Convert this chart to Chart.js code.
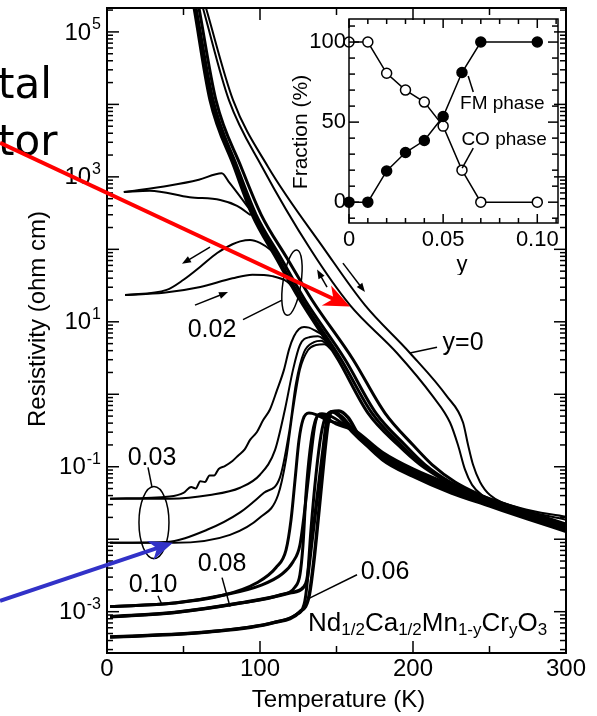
<!DOCTYPE html>
<html>
<head>
<meta charset="utf-8">
<script src="https://cdn.jsdelivr.net/npm/chart.js@4.4.0/dist/chart.umd.min.js"></script>
<style>
  body { margin: 0; background: #fff; }
  #wrap { position: relative; width: 597px; height: 716px; }
  #main { position: absolute; left: 0; top: 0; }
  #inset { position: absolute; left: 290px; top: 10px; }
</style>
</head>
<body>
<div id="wrap">
  <canvas id="main" width="597" height="716"></canvas>
  <canvas id="inset" width="276" height="265"></canvas>
</div>
<script>
// ---- main panel: temperature (K) and log10 of resistivity (ohm cm) ----
// y = 0 (warming / cooling)
const y0WarmT = [64.7, 82.4, 105.2, 142.5, 168.6, 198, 222.2, 232.7, 236, 239.2, 243.8, 250.3, 270, 300];
const y0WarmLogR = [5.33, 4.06, 3.14, 1.99, 1.23, 0.57, -0.03, -0.39, -0.70, -0.97, -1.21, -1.39, -1.57, -1.69];
const y0CoolT = [62.7, 79.7, 101.3, 133.3, 158.8, 189.5, 213, 224.2, 229.4, 234, 238.6, 245.1, 270, 300];
const y0CoolLogR = [5.33, 4.06, 3.14, 1.99, 1.23, 0.57, -0.03, -0.39, -0.70, -1.04, -1.25, -1.39, -1.59, -1.73];

// high temperature bundle of the doped samples
const bundleLogR = [5.33, 4.06, 3.14, 2.48, 1.88, 1.30, 0.48, -0.26, -0.70, -0.97, -1.21];
const bundle1T = [56.9, 67.3, 83, 94.8, 110.5, 126.1, 151, 170.6, 190.2, 204.6, 222.2, 242.5, 270, 300];
const bundle1LogR = bundleLogR.concat([-1.44, -1.67, -1.86]);
const bundle2T = [57.5, 68, 83.7, 96.1, 111.8, 127.5, 153, 173.2, 192.2, 206, 223.5, 243.1, 270, 300];
const bundle2LogR = bundleLogR.concat([-1.42, -1.66, -1.84]);
const bundle3T = [58.2, 69.3, 85, 97.4, 113.7, 129.4, 155.6, 175.8, 194.8, 207.8, 224.2, 243.8, 270, 300];
const bundle3LogR = bundleLogR.concat([-1.41, -1.65, -1.83]);
const bundle4T = [60.1, 71.2, 87.6, 100.7, 117.6, 134, 160.8, 181.7, 200, 212.4, 227.5, 245.1, 270, 300];
const bundle4LogR = bundleLogR.concat([-1.40, -1.63, -1.80]);

// y = 0.02
const c1T = [11, 41, 60, 75, 80, 88, 95];
const c1LogR = [2.79, 2.88, 2.96, 3.05, 2.92, 2.70, 2.50];
const c2T = [11, 28, 54, 74, 85, 94];
const c2LogR = [2.79, 2.81, 2.72, 2.68, 2.60, 2.47];
const d1T = [11.8, 39, 50, 61, 72, 82, 87, 93.5, 100, 107, 113];
const d1LogR = [1.37, 1.44, 1.58, 1.76, 1.95, 2.07, 2.11, 2.13, 2.09, 1.99, 1.86];
const d2T = [11.8, 37, 61, 82, 95, 108, 118, 122];
const d2LogR = [1.37, 1.40, 1.48, 1.60, 1.65, 1.63, 1.55, 1.46];

// y = 0.03
const e1T = [2, 41, 50, 55, 58, 61, 64, 67, 70, 73, 77, 82, 86, 90, 93.5, 98, 102, 106.5, 111, 115.7, 119, 122.2, 125.5, 128.8, 132, 136, 140];
const e1LogR = [-1.44, -1.41, -1.36, -1.28, -1.30, -1.20, -1.21, -1.12, -1.12, -1.03, -0.99, -0.92, -0.84, -0.76, -0.63, -0.52, -0.36, -0.21, 0.05, 0.34, 0.62, 0.80, 0.90, 0.93, 0.92, 0.88, 0.83];
const e2T = [2, 41, 67.3, 87, 100, 109.8, 116.3, 121.6, 126.1, 132.7, 137.9, 143];
const e2LogR = [-1.44, -1.44, -1.39, -1.29, -1.11, -0.77, -0.21, 0.34, 0.68, 0.79, 0.80, 0.74];
const e3T = [2, 38, 65.4, 87, 102.6, 113, 119, 123.5, 128.8, 135.3, 140, 145];
const e3LogR = [-2.05, -2.04, -1.87, -1.63, -1.36, -1.15, -0.53, 0.15, 0.58, 0.72, 0.74, 0.67];
const e4T = [2, 44, 80.4, 100, 111.8, 117, 121.6, 126.1, 131.4, 136.6, 142, 147];
const e4LogR = [-2.05, -2.05, -1.94, -1.70, -1.39, -0.90, -0.21, 0.34, 0.61, 0.68, 0.69, 0.61];

// y = 0.10, 0.08, 0.06 (cooling / warming)
const g10cT = [2, 44, 76.5, 98, 110.5, 117, 120.3, 122.9, 125.5, 128.1, 132, 136.6, 143.1, 160, 180, 200, 225, 250, 275, 300];
const g10cLogR = [-2.93, -2.88, -2.77, -2.60, -2.39, -2.15, -1.73, -1.18, -0.63, -0.35, -0.26, -0.28, -0.35, -0.47, -0.80, -1.03, -1.25, -1.44, -1.62, -1.79];
const g10wT = [2, 44, 76.5, 100, 114.4, 121.6, 126.1, 130, 133.3, 135.9, 138.6, 143.1, 149.7, 160, 180, 200, 225, 250, 275, 300];
const g10wLogR = [-2.93, -2.88, -2.77, -2.64, -2.48, -2.31, -2.08, -1.46, -0.84, -0.42, -0.28, -0.32, -0.41, -0.49, -0.83, -1.06, -1.28, -1.47, -1.65, -1.82];
const g08cT = [2, 44, 87, 113, 122.9, 126.1, 128.1, 130, 132.7, 135.9, 140.5, 147, 160, 180, 200, 225, 250, 275, 300];
const g08cLogR = [-3.07, -3.01, -2.88, -2.77, -2.66, -2.49, -2.08, -1.39, -0.77, -0.38, -0.27, -0.31, -0.50, -0.85, -1.08, -1.30, -1.48, -1.66, -1.83];
const g08wT = [2, 44, 87, 119.6, 128.1, 130.7, 134, 138, 141.2, 143.8, 147, 152.3, 160, 180, 200, 225, 250, 275, 300];
const g08wLogR = [-3.07, -3.01, -2.88, -2.74, -2.67, -2.56, -2.01, -1.32, -0.77, -0.35, -0.24, -0.31, -0.51, -0.87, -1.10, -1.32, -1.50, -1.68, -1.85];
const g06cT = [2, 65.4, 109, 123.5, 128.8, 130.7, 133.3, 136.6, 139.9, 143.1, 147.7, 153.6, 165, 180, 200, 225, 250, 275, 300];
const g06cLogR = [-3.35, -3.28, -3.15, -3.04, -2.90, -2.63, -1.87, -1.11, -0.56, -0.30, -0.24, -0.31, -0.60, -0.88, -1.12, -1.34, -1.52, -1.70, -1.87];
const g06wT = [2, 65.4, 109, 126.1, 132, 135.3, 138.6, 141.8, 144.4, 147, 151.6, 157.5, 165, 180, 200, 225, 250, 275, 300];
const g06wLogR = [-3.35, -3.28, -3.15, -3.00, -2.79, -2.28, -1.59, -0.90, -0.42, -0.24, -0.23, -0.32, -0.58, -0.90, -1.13, -1.36, -1.54, -1.72, -1.89];

// axis ticks
const tempTicks = [0, 100, 200, 300];
const tempMinorTicks = [50, 150, 250];
const resLabelDecades = [5, 3, 1, -1, -3];

// ---- inset: phase fraction vs Cr content y ----
const crContent = [0, 0.01, 0.02, 0.03, 0.04, 0.05, 0.06, 0.07, 0.10];
const coFraction = [100, 100, 80.5, 70, 62.5, 47.5, 20, 0, 0];
const fmFraction = [0, 0, 19.5, 31, 38.5, 53.5, 81, 100, 100];
const crTicks = [0, 0.05, 0.10];
const crTickLabels = ['0', '0.05', '0.10'];
const crMinorTicks = [0.01, 0.02, 0.03, 0.04, 0.06, 0.07, 0.08, 0.09, 0.11];
const fracTicks = [0, 50, 100];
const fracMinorTicks = [-10, 10, 20, 30, 40, 60, 70, 80, 90, 110];

const FONT = '"Liberation Sans", Arial, Helvetica, sans-serif';

function curve(temps, logs, width) {
  return {
    data: temps.map((t, i) => ({ x: t, y: Math.pow(10, logs[i]) })),
    borderColor: '#000',
    borderWidth: width,
    pointRadius: 0,
    fill: false,
    cubicInterpolationMode: 'monotone'
  };
}

function line(ctx, x1, y1, x2, y2) {
  ctx.beginPath();
  ctx.moveTo(x1, y1);
  ctx.lineTo(x2, y2);
  ctx.stroke();
}

function arrow(ctx, x1, y1, x2, y2, color, width, headLen, headHalf, notch) {
  const ang = Math.atan2(y2 - y1, x2 - x1);
  const c = Math.cos(ang), s = Math.sin(ang);
  const bx = x2 - headLen * c, by = y2 - headLen * s;
  ctx.strokeStyle = color;
  ctx.fillStyle = color;
  ctx.lineWidth = width;
  line(ctx, x1, y1, x2 - headLen * 0.6 * c, y2 - headLen * 0.6 * s);
  ctx.beginPath();
  ctx.moveTo(x2, y2);
  ctx.lineTo(bx - headHalf * s, by + headHalf * c);
  ctx.lineTo(x2 - headLen * notch * c, y2 - headLen * notch * s);
  ctx.lineTo(bx + headHalf * s, by - headHalf * c);
  ctx.closePath();
  ctx.fill();
}

// annotations, placed in data coordinates (T, log10 R)
const curveLabels = [
  { text: '0.02', t: 68.6, l: 0.89 },
  { text: '0.03', t: 29.4, l: -0.88 },
  { text: '0.10', t: 30.1, l: -2.63 },
  { text: '0.08', t: 75.2, l: -2.34 },
  { text: '0.06', t: 181.7, l: -2.45 },
  { text: 'y=0', t: 232.7, l: 0.71 }
];
const leaderLines = [
  [88.9, 1.03, 114.4, 1.30],
  [26.8, -1.01, 29.4, -1.28],
  [33.3, -2.78, 35.9, -2.90],
  [75.2, -2.53, 80.4, -2.93],
  [163.4, -2.49, 130.7, -2.83],
  [215.7, 0.65, 198, 0.57]
];
const loops = [
  { t: 120.9, l: 1.54, rx: 9, ry: 33, rot: 0.15 },
  { t: 30.7, l: -1.77, rx: 15, ry: 36, rot: 0 }
];
const sweepArrows = [
  [67.3, 2.03, 49, 1.80],
  [57.5, 1.23, 79.1, 1.41],
  [143.8, 1.48, 137.3, 1.72],
  [154.2, 1.81, 168.6, 1.41]
];

const resistivityDecor = {
  id: 'resistivityDecor',
  afterDraw(chart) {
    const { ctx, chartArea: a, scales } = chart;
    const px = t => scales.x.getPixelForValue(t);
    const py = l => scales.y.getPixelForValue(Math.pow(10, l));
    ctx.save();
    ctx.strokeStyle = '#000';
    ctx.fillStyle = '#000';

    // frame and inward ticks
    ctx.lineWidth = 2;
    ctx.strokeRect(a.left, a.top, a.right - a.left, a.bottom - a.top);
    ctx.lineWidth = 1.5;
    tempTicks.forEach(t => { const x = px(t); line(ctx, x, a.bottom, x, a.bottom - 12); line(ctx, x, a.top, x, a.top + 12); });
    tempMinorTicks.forEach(t => { const x = px(t); line(ctx, x, a.bottom, x, a.bottom - 7); line(ctx, x, a.top, x, a.top + 7); });
    for (let e = -4; e <= 5; e++) {
      for (let m = 1; m <= 9; m++) {
        const v = m * Math.pow(10, e);
        if (v < scales.y.min || v > scales.y.max) continue;
        const y = scales.y.getPixelForValue(v);
        const len = m === 1 ? 12 : 6;
        line(ctx, a.left, y, a.left + len, y);
        line(ctx, a.right, y, a.right - len, y);
      }
    }

    // tick labels
    ctx.font = '24px ' + FONT;
    ctx.textAlign = 'center';
    ctx.textBaseline = 'middle';
    tempTicks.forEach(t => ctx.fillText(String(t), px(t), a.bottom + 16));
    resLabelDecades.forEach(e => {
      const y = py(e);
      const sup = String(e);
      ctx.font = '16px ' + FONT;
      const ws = ctx.measureText(sup).width;
      ctx.textAlign = 'left';
      ctx.textBaseline = 'alphabetic';
      ctx.fillText(sup, a.left - 6 - ws, y - 3);
      ctx.font = '24px ' + FONT;
      ctx.textAlign = 'right';
      ctx.textBaseline = 'middle';
      ctx.fillText('10', a.left - 7 - ws, y + 1);
    });

    // axis titles
    ctx.font = '24px ' + FONT;
    ctx.textAlign = 'center';
    ctx.textBaseline = 'middle';
    ctx.fillText('Temperature (K)', (a.left + a.right) / 2 + 2, a.bottom + 47);
    ctx.save();
    ctx.translate(a.left - 69, a.top + 311);
    ctx.rotate(-Math.PI / 2);
    ctx.fillText('Resistivity (ohm cm)', 0, 0);
    ctx.restore();

    // curve labels, leaders, loops, sweep arrows
    ctx.font = '25px ' + FONT;
    curveLabels.forEach(c => ctx.fillText(c.text, px(c.t), py(c.l)));
    ctx.lineWidth = 1.5;
    leaderLines.forEach(s => line(ctx, px(s[0]), py(s[1]), px(s[2]), py(s[3])));
    loops.forEach(o => {
      ctx.beginPath();
      ctx.ellipse(px(o.t), py(o.l), o.rx, o.ry, o.rot, 0, Math.PI * 2);
      ctx.stroke();
    });
    sweepArrows.forEach(s => arrow(ctx, px(s[0]), py(s[1]), px(s[2]), py(s[3]), '#000', 1.5, 9, 3.5, 1));

    // compound formula
    const parts = [['Nd', 0], ['1/2', 1], ['Ca', 0], ['1/2', 1], ['Mn', 0], ['1-y', 1], ['Cr', 0], ['y', 1], ['O', 0], ['3', 1]];
    let cx = px(131.4);
    const base = py(-3.26);
    ctx.fillStyle = '#000';
    ctx.textAlign = 'left';
    ctx.textBaseline = 'alphabetic';
    parts.forEach(([s, sub]) => {
      ctx.font = (sub ? '17px ' : '26px ') + FONT;
      ctx.fillText(s, cx, base + (sub ? 4 : 0));
      cx += ctx.measureText(s).width;
    });

    // slide overlay: cut-off words and pointer arrows
    ctx.font = '42px "DejaVu Sans", sans-serif';
    ctx.fillText('tal', px(-71.2), py(4.09));
    ctx.fillText('tor', px(-71.2), py(3.30));
    arrow(ctx, px(-69.9), py(3.47), px(158.8), py(1.21), '#ff0000', 4, 26, 11, 0.7);
    arrow(ctx, px(-69.9), py(-2.85), px(43.1), py(-2.05), '#3232c8', 4, 24, 10, 0.7);
    ctx.restore();
  }
};

new Chart(document.getElementById('main'), {
  type: 'line',
  data: {
    datasets: [
      curve(y0WarmT, y0WarmLogR, 2),
      curve(y0CoolT, y0CoolLogR, 2),
      curve(bundle1T, bundle1LogR, 3),
      curve(bundle2T, bundle2LogR, 3),
      curve(bundle3T, bundle3LogR, 3),
      curve(bundle4T, bundle4LogR, 3),
      curve(c1T, c1LogR, 2),
      curve(c2T, c2LogR, 2),
      curve(d1T, d1LogR, 2),
      curve(d2T, d2LogR, 2),
      curve(e1T, e1LogR, 2),
      curve(e2T, e2LogR, 2),
      curve(e3T, e3LogR, 2),
      curve(e4T, e4LogR, 2),
      curve(g10cT, g10cLogR, 3),
      curve(g10wT, g10wLogR, 3),
      curve(g08cT, g08cLogR, 3),
      curve(g08wT, g08wLogR, 3.5),
      curve(g06cT, g06cLogR, 3),
      curve(g06wT, g06wLogR, 3.5)
    ]
  },
  options: {
    responsive: false,
    animation: false,
    events: [],
    layout: { padding: { left: 107, right: 31, top: 8, bottom: 63 } },
    scales: {
      x: { type: 'linear', min: 0, max: 300, display: false },
      y: { type: 'logarithmic', min: Math.pow(10, -3.57), max: Math.pow(10, 5.33), display: false }
    },
    plugins: { legend: { display: false }, tooltip: { enabled: false } }
  },
  plugins: [resistivityDecor]
});

// ---- inset ----
const insetDecor = {
  id: 'insetDecor',
  afterDraw(chart) {
    const { ctx, chartArea: a, scales } = chart;
    const px = v => scales.x.getPixelForValue(v);
    const py = v => scales.y.getPixelForValue(v);
    ctx.save();
    ctx.strokeStyle = '#000';
    ctx.fillStyle = '#000';
    ctx.lineWidth = 1.5;
    ctx.strokeRect(a.left, a.top, a.right - a.left, a.bottom - a.top);
    crTicks.forEach(v => { const x = px(v); line(ctx, x, a.bottom, x, a.bottom - 9); line(ctx, x, a.top, x, a.top + 9); });
    crMinorTicks.forEach(v => { const x = px(v); line(ctx, x, a.bottom, x, a.bottom - 5); line(ctx, x, a.top, x, a.top + 5); });
    fracTicks.forEach(v => { const y = py(v); line(ctx, a.left, y, a.left + 10, y); line(ctx, a.right, y, a.right - 10, y); });
    fracMinorTicks.forEach(v => { const y = py(v); line(ctx, a.left, y, a.left + 6, y); line(ctx, a.right, y, a.right - 6, y); });

    ctx.font = '22px ' + FONT;
    ctx.textAlign = 'right';
    ctx.textBaseline = 'middle';
    fracTicks.forEach(v => ctx.fillText(String(v), a.left - 3, py(v)));
    ctx.textAlign = 'center';
    ctx.textBaseline = 'top';
    crTicks.forEach((v, i) => ctx.fillText(crTickLabels[i], px(v), a.bottom + 6));
    ctx.textBaseline = 'middle';
    ctx.fillText('y', px(0.06), a.bottom + 42);
    ctx.save();
    ctx.translate(a.left - 48, (a.top + a.bottom) / 2 + 11);
    ctx.rotate(-Math.PI / 2);
    ctx.font = '21px ' + FONT;
    ctx.fillText('Fraction (%)', 0, 0);
    ctx.restore();

    ctx.font = '19px ' + FONT;
    ctx.fillText('FM phase', px(0.0814), py(61.3));
    ctx.fillText('CO phase', px(0.0824), py(38.8));
    line(ctx, px(0.0633), py(78.8), px(0.066), py(68.8));
    line(ctx, px(0.0601), py(21.3), px(0.066), py(33.8));
    ctx.restore();
  }
};

new Chart(document.getElementById('inset'), {
  type: 'line',
  data: {
    datasets: [
      {
        data: crContent.map((c, i) => ({ x: c, y: fmFraction[i] })),
        borderColor: '#000', borderWidth: 1.5, tension: 0,
        pointRadius: 5, pointBackgroundColor: '#000', pointBorderColor: '#000', pointBorderWidth: 1.5,
        clip: false
      },
      {
        data: crContent.map((c, i) => ({ x: c, y: coFraction[i] })),
        borderColor: '#000', borderWidth: 1.5, tension: 0,
        pointRadius: 5, pointBackgroundColor: '#fff', pointBorderColor: '#000', pointBorderWidth: 1.5,
        clip: false
      }
    ]
  },
  options: {
    responsive: false,
    animation: false,
    events: [],
    layout: { padding: { left: 59, right: 8, top: 9, bottom: 52 } },
    scales: {
      x: { type: 'linear', min: 0, max: 0.111, display: false },
      y: { type: 'linear', min: -13, max: 114.4, display: false }
    },
    plugins: { legend: { display: false }, tooltip: { enabled: false } }
  },
  plugins: [insetDecor]
});
</script>
</body>
</html>
